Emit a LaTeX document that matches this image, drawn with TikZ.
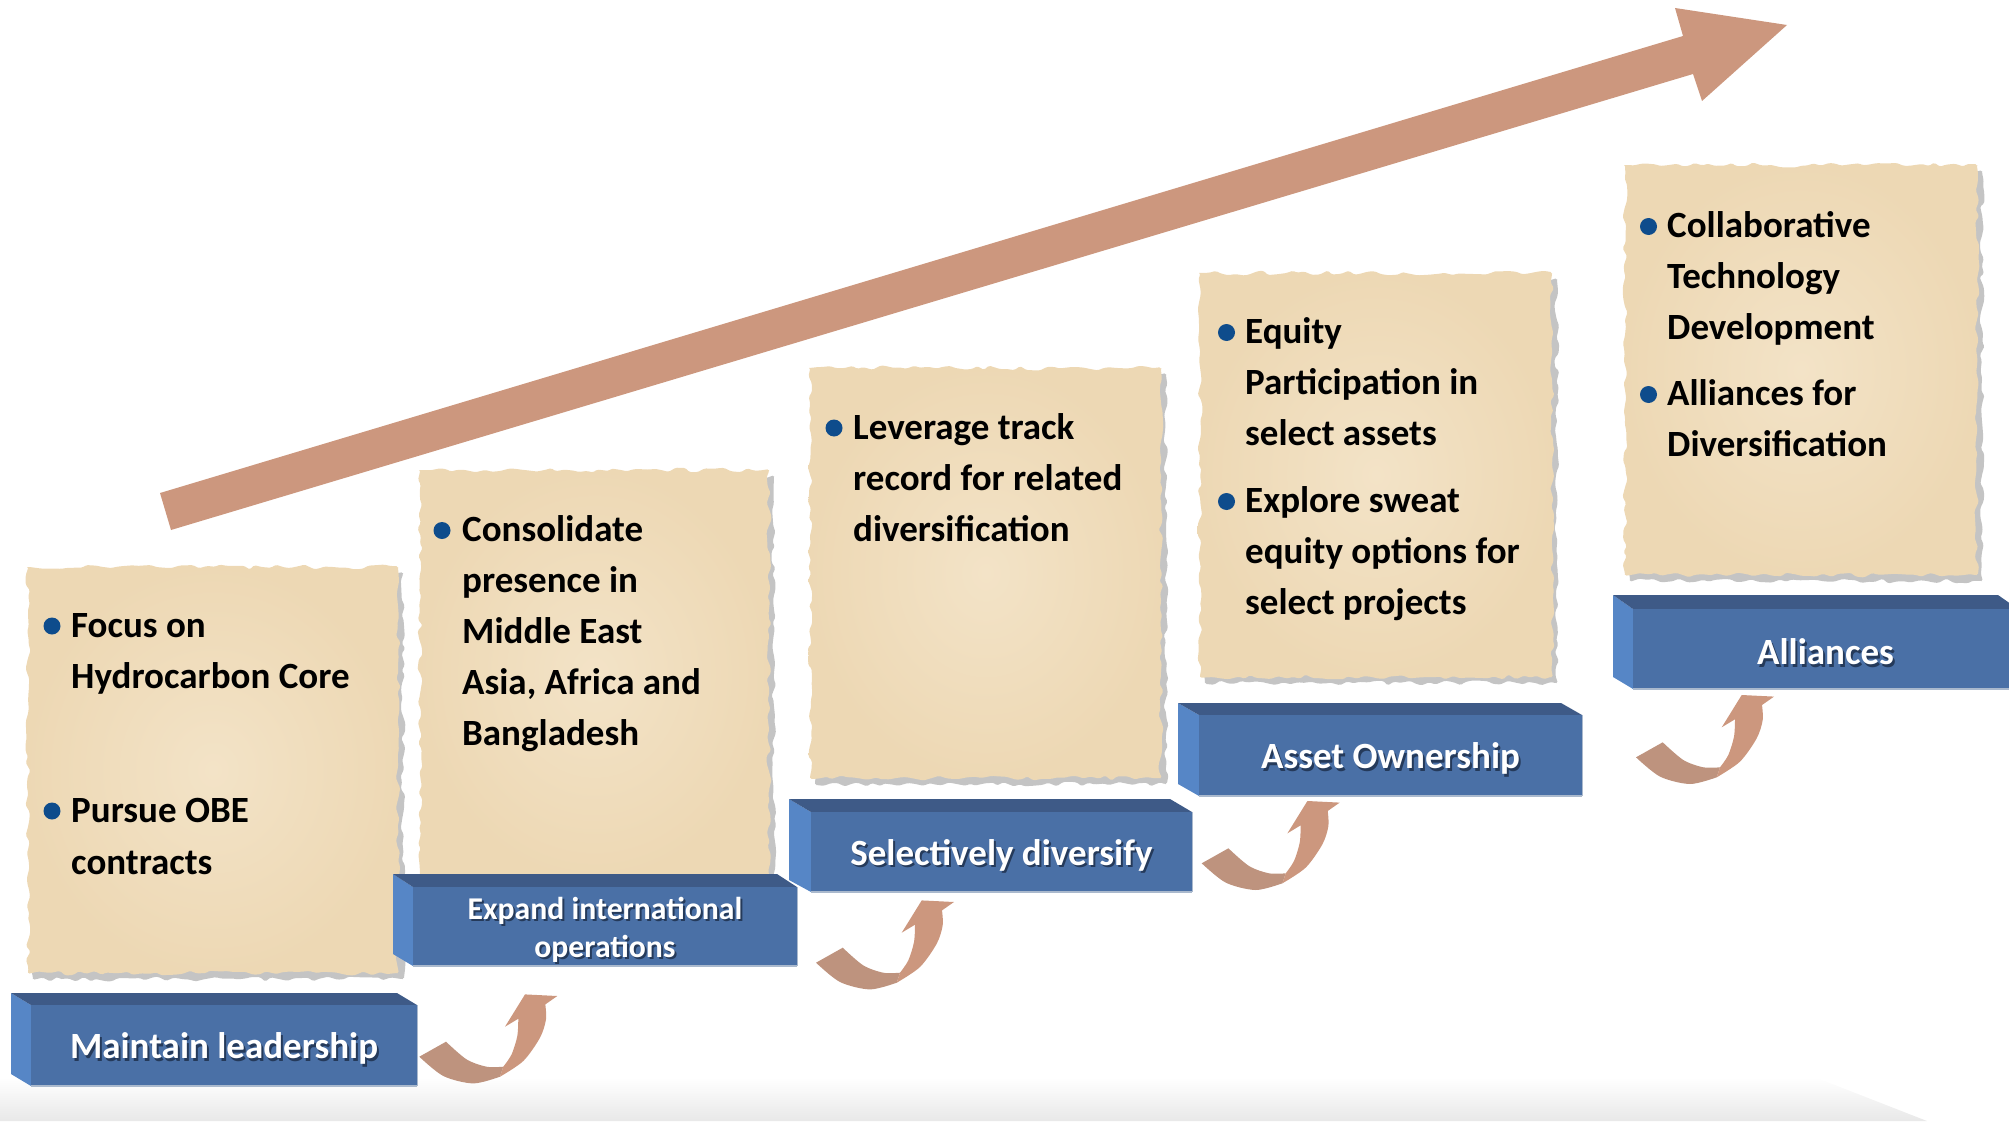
\documentclass[tikz,border=0pt]{standalone}
\usepackage{fontspec}
\setmainfont{Carlito}
\usetikzlibrary{decorations.pathmorphing}
\definecolor{arrowc}{RGB}{204,151,126}
\definecolor{arrowd}{RGB}{190,147,126}
\definecolor{barfrontc}{RGB}{74,112,166}
\definecolor{bartopc}{RGB}{62,90,135}
\definecolor{barleftc}{RGB}{86,134,198}
\definecolor{barlinec}{RGB}{170,185,205}
\definecolor{paperc}{RGB}{237,216,180}
\definecolor{paperin}{RGB}{243,227,199}
\definecolor{bulletc}{RGB}{14,76,140}
\definecolor{floorc}{RGB}{232,232,232}
\definecolor{txtshadow}{RGB}{25,40,65}
\tikzset{
  torn/.style={decoration={random steps,segment length=7pt,amplitude=2.5pt},decorate,rounded corners=1.5pt},
  notepaper/.style={torn,inner color=paperin,outer color=paperc},
  noteshadow/.style={torn,fill=black!42,fill opacity=0.55},
  notetext/.style={anchor=base west,inner sep=0pt,font=\fontsize{37}{51}\selectfont\bfseries,text=black},
  bartxt/.style={inner sep=0pt,align=center,text=white,font=\fontsize{37}{44}\selectfont\bfseries},
  bartxtsh/.style={bartxt,text=txtshadow,text opacity=0.75},
  curvarrow/.pic={
    \fill[arrowd] plot[smooth] coordinates {(0,0) (24,19.3) (54,26.7) (80.7,20)} -- (84,10)
      -- plot[smooth] coordinates {(84,10) (67.3,10) (47.3,2.7) (26.7,-15)} -- cycle;
    \fill[arrowc] plot[smooth] coordinates {(80.7,20) (104,4.3) (120.7,-19) (126.7,-37.3) (126,-52.3)}
      -- (138,-60.7) -- (105.7,-62.3) -- (85.7,-30) -- (99,-38)
      -- plot[smooth] coordinates {(99,-38) (98,-20.7) (92.3,-2.3) (84,10)} -- cycle;
  }
}
% #1 name, #2 xl, #3 xf, #4 xr, #5 yt, #6 yf, #7 yb, #8 text, #9 font
\newcommand\mkbar[9]{%
  \fill[barleftc] (#2,#5) -- (#3,#6) -- (#3,#7) -- (#2,#7-12) -- cycle;
  \fill[bartopc] (#2,#5) -- (#4-#3+#2,#5) -- (#4,#6) -- (#3,#6) -- cycle;
  \fill[barfrontc] (#3,#6) rectangle (#4,#7);
  \draw[barlinec,line width=1.5pt] (#3,#7) -- (#4,#7);
  \draw[barlinec,line width=1pt] (#4,#6) -- (#4,#7);
  \node[bartxtsh,#9] (#1s) at ({(#3+#4)/2+2},{(#6+#7)/2+5.5}) {#8};
  \node[bartxt,#9] (#1) at ({(#3+#4)/2},{(#6+#7)/2+3}) {#8};
}
% #1 x1, #2 y1, #3 x2, #4 y2
\newcommand\mknote[4]{%
  \fill[noteshadow] (#1+5,#2+6) rectangle (#3+5,#4+6);
  \shade[notepaper] (#1,#2) rectangle (#3,#4);
}
\newcommand\nbul[2]{\fill[bulletc] (#1,#2) circle[radius=8.5pt];}
\begin{document}
\begin{tikzpicture}[x=1pt,y=-1pt]
\useasboundingbox (0,0) rectangle (2009,1121);
\clip (0,0) rectangle (2009,1121);
\pgfmathsetseed{11}
% floor
\shade[top color=white,bottom color=floorc] (0,1078) -- (1817,1078) -- (1927,1121) -- (0,1121) -- cycle;
% big arrow
\fill[arrowc] (160,493) -- (1683,36) -- (1675,8) -- (1787,25) -- (1702,101) -- (1693,74) -- (171,530) -- cycle;
% notes
\mknote{28}{567}{398}{973}
\mknote{420}{470}{769}{878}
\mknote{810}{368}{1161}{778}
\mknote{1200}{273}{1552}{677}
\mknote{1625}{165}{1977}{575}
% note 1
\nbul{52}{626}\nbul{52}{811}
\node[notetext] (n1a) at (71,637) {Focus on};
\node[notetext] (n1b) at (71,688) {Hydrocarbon Core};
\node[notetext] (n1c) at (71,822) {Pursue OBE};
\node[notetext] (n1d) at (71,874) {contracts};
% note 2
\nbul{442}{530.5}
\node[notetext] (n2a) at (462,541.5) {Consolidate};
\node[notetext] (n2b) at (462,592.5) {presence in};
\node[notetext] (n2c) at (462,643.5) {Middle East};
\node[notetext] (n2d) at (462,694.5) {Asia, Africa and};
\node[notetext] (n2e) at (462,745.5) {Bangladesh};
% note 3
\nbul{834}{428}
\node[notetext] (n3a) at (853,439) {Leverage track};
\node[notetext] (n3b) at (853,490) {record for related};
\node[notetext] (n3c) at (853,541) {diversification};
% note 4
\nbul{1226.5}{332.5}\nbul{1226.5}{501.5}
\node[notetext] (n4a) at (1245,343) {Equity};
\node[notetext] (n4b) at (1245,394) {Participation in};
\node[notetext] (n4c) at (1245,445) {select assets};
\node[notetext] (n4d) at (1245,512) {Explore sweat};
\node[notetext] (n4e) at (1245,563) {equity options for};
\node[notetext] (n4f) at (1245,614) {select projects};
% note 5
\nbul{1648.5}{226.5}\nbul{1648.5}{394.5}
\node[notetext] (n5a) at (1667,237) {Collaborative};
\node[notetext] (n5b) at (1667,288) {Technology};
\node[notetext] (n5c) at (1667,339) {Development};
\node[notetext] (n5d) at (1667,405) {Alliances for};
\node[notetext] (n5e) at (1667,456) {Diversification};
% bars
\mkbar{b1}{11}{31}{417}{993}{1005}{1086}{Maintain leadership}{}
\mkbar{b2}{393}{413}{797}{874}{887}{966}{Expand international\\operations}{font=\fontsize{31.7}{38}\selectfont\bfseries}
\mkbar{b3}{789}{811}{1192}{799}{812}{892}{Selectively diversify}{}
\mkbar{b4}{1178}{1199}{1582}{703}{715}{796}{Asset Ownership}{}
\mkbar{b5}{1613}{1633}{2018}{595}{609}{689}{Alliances}{}
% curved arrows
\pic (a1) at (419.3,1056.7) {curvarrow};
\pic (a2) at (816,962.7) {curvarrow};
\pic (a3) at (1201.7,863.3) {curvarrow};
\pic (a4) at (1636,757.3) {curvarrow};
\end{tikzpicture}
\end{document}
